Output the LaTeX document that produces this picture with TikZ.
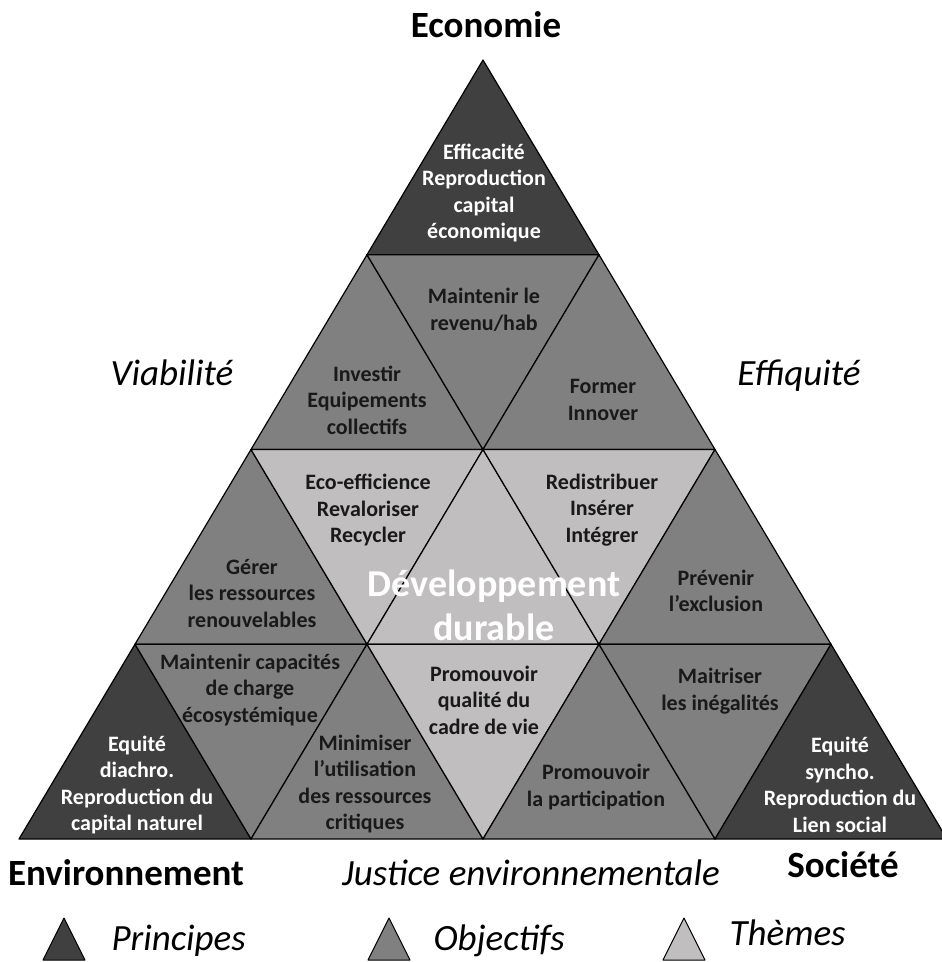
\documentclass[tikz,border=0pt]{standalone}
\usepackage{fontspec}
\setmainfont{Carlito}
\definecolor{pdark}{RGB}{64,64,64}
\definecolor{omid}{RGB}{128,128,128}
\definecolor{tlight}{RGB}{192,190,190}
\begin{document}
\begin{tikzpicture}[
        x=1pt, y=-1pt,
        tri/.style={draw=black, line width=1.2pt, line join=round},
        ptri/.style={tri, fill=pdark},
        otri/.style={tri, fill=omid},
        ttri/.style={tri, fill=tlight},
        intxt/.style={align=center, text=black!90, font=\bfseries\fontsize{22}{26.5}\selectfont},
        inwht/.style={intxt, text=white},
        pole/.style={anchor=base, font=\bfseries\fontsize{37}{42}\selectfont},
        axe/.style={anchor=base, font=\itshape\fontsize{37}{42}\selectfont},
        legtxt/.style={anchor=base west, font=\itshape\fontsize{37}{42}\selectfont}
      ]
        \useasboundingbox (0,0) rectangle (942,962);

        % grid of vertices, row k, position j
        \foreach \k in {0,...,4}
          \foreach \j in {0,...,\k}
            \coordinate (p\k\j) at ({483+(2*\j-\k)*116}, {60+\k*194.75});

        % row 1
        \path [ptri] (p00) -- (p10) -- (p11) -- cycle;
        % row 2
        \path [otri] (p10) -- (p20) -- (p21) -- cycle;
        \path [otri] (p10) -- (p11) -- (p21) -- cycle;
        \path [otri] (p11) -- (p21) -- (p22) -- cycle;
        % row 3
        \path [otri] (p20) -- (p30) -- (p31) -- cycle;
        \path [ttri] (p20) -- (p21) -- (p31) -- cycle;
        \path [ttri] (p21) -- (p31) -- (p32) -- cycle;
        \path [ttri] (p21) -- (p22) -- (p32) -- cycle;
        \path [otri] (p22) -- (p32) -- (p33) -- cycle;
        % row 4
        \path [ptri] (p30) -- (p40) -- (p41) -- cycle;
        \path [otri] (p30) -- (p31) -- (p41) -- cycle;
        \path [otri] (p31) -- (p41) -- (p42) -- cycle;
        \path [ttri] (p31) -- (p32) -- (p42) -- cycle;
        \path [otri] (p32) -- (p42) -- (p43) -- cycle;
        \path [otri] (p32) -- (p33) -- (p43) -- cycle;
        \path [ptri] (p33) -- (p43) -- (p44) -- cycle;

        \node (eff) at (484, 193) [inwht] {Efficacité\\Reproduction\\capital\\économique};
        \node (rev) at (484, 310) [intxt] {Maintenir le\\revenu/hab};
        \node (inv) at (367, 400) [intxt] {Investir\\Equipements\\collectifs};
        \node (for) at (603, 400) [intxt] {Former\\Innover};
        \node (ger) at (252, 593) [intxt] {Gérer\\les ressources\\renouvelables};
        \node (eco) at (368, 510) [intxt] {Eco-efficience\\Revaloriser\\Recycler};
        \node (dd)  at (494, 605) [inwht, font=\bfseries\fontsize{38}{44}\selectfont] {Développement\\durable};
        \node (red) at (602, 510) [intxt] {Redistribuer\\Insérer\\Intégrer};
        \node (pre) at (716, 591) [intxt] {Prévenir\\l’exclusion};
        \node (dia) at (137, 785) [inwht] {Equité\\diachro.\\Reproduction du\\capital naturel};
        \node (cap) at (250, 690) [intxt] {Maintenir capacités\\de charge\\écosystémique};
        \node (min) at (365, 784) [intxt] {Minimiser\\l’utilisation\\des ressources\\critiques};
        \node (cad) at (484, 700) [intxt] {Promouvoir\\qualité du\\cadre de vie};
        \node (par) at (596, 787) [intxt] {Promouvoir\\la participation};
        \node (ine) at (720, 691) [intxt] {Maitriser\\les inégalités};
        \node (syn) at (840, 785) [inwht] {Equité\\syncho.\\Reproduction du\\Lien social};

        % poles and axes
        \node (econ) at (486, 37)  [pole] {Economie};
        \node (envi) at (126, 885) [pole] {Environnement};
        \node (soci) at (843, 877) [pole] {Société};
        \node (viab) at (172, 385) [axe] {Viabilité};
        \node (effi) at (799, 385) [axe] {Effiquité};
        \node (just) at (531, 885) [axe] {Justice environnementale};

        % legend
        \path [ptri, line width=1pt] (64, 918) -- (43, 960) -- (85, 960) -- cycle;
        \path [otri, line width=1pt] (389, 918) -- (368, 960) -- (410, 960) -- cycle;
        \path [ttri, line width=1pt] (684, 918) -- (663, 960) -- (705, 960) -- cycle;
        \node (lp) at (108, 950) [legtxt] {Principes};
        \node (lo) at (430, 950) [legtxt] {Objectifs};
        \node (lt) at (726, 945) [legtxt] {Thèmes};
      \end{tikzpicture}
\end{document}
